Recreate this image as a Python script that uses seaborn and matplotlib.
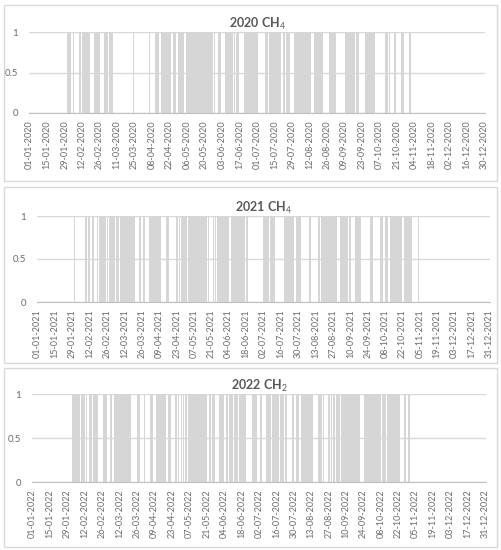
import numpy as np
import pandas as pd
import seaborn as sns
import matplotlib.pyplot as plt
from matplotlib.patches import Rectangle

# active days (0 = 1 January), as (first, last) runs
runs_2020 = [(30, 33), (35, 35), (40, 48), (52, 56), (60, 62), (64, 66), (83, 83),
             (96, 96), (101, 103), (106, 113), (115, 117), (119, 120), (121, 123),
             (126, 128), (129, 135), (136, 146), (148, 148), (151, 153), (157, 160),
             (161, 162), (164, 164), (166, 167), (172, 174), (175, 182), (189, 190),
             (192, 201), (203, 204), (206, 208), (212, 225), (228, 230), (231, 234),
             (240, 245), (253, 257), (258, 260), (262, 263), (269, 272), (273, 276),
             (285, 286), (288, 288), (292, 293), (298, 299), (304, 305)]
runs_2021 = [(30, 30), (39, 39), (41, 42), (44, 45), (48, 48), (50, 56), (58, 62),
             (64, 65), (67, 78), (82, 83), (85, 86), (90, 94), (95, 99), (104, 105),
             (112, 114), (116, 120), (122, 136), (138, 138), (142, 143), (145, 146),
             (147, 148), (149, 154), (156, 169), (182, 186), (188, 191), (199, 206),
             (209, 212), (219, 220), (226, 227), (229, 230), (231, 241), (244, 250),
             (251, 252), (256, 260), (268, 270), (276, 278), (280, 282), (284, 293),
             (296, 301), (307, 307)]
runs_2022 = [(32, 35), (36, 43), (46, 47), (49, 52), (57, 59), (63, 63), (66, 79),
             (84, 86), (90, 90), (95, 96), (100, 107), (109, 111), (115, 117),
             (120, 121), (123, 129), (130, 140), (142, 143), (145, 146), (150, 153),
             (156, 157), (158, 171), (177, 180), (183, 184), (188, 191), (193, 204),
             (209, 210), (212, 214), (216, 219), (220, 225), (230, 232), (234, 234),
             (238, 240), (242, 246), (247, 262), (263, 263), (267, 270), (271, 273),
             (274, 280), (281, 295), (299, 300), (302, 303)]

years = [2020, 2021, 2022]
titles = ["2020 CH$_4$", "2021 CH$_4$", "2022 CH$_2$"]
all_runs = [runs_2020, runs_2021, runs_2022]

sns.set_style("white")
plt.rcParams['font.family'] = ['Lato', 'DejaVu Sans']
plt.rcParams['mathtext.fontset'] = 'custom'
plt.rcParams['mathtext.rm'] = 'Lato'

W, H = 501, 550
fig = plt.figure(figsize=(W / 100, H / 100), dpi=100)

# axes boxes in pixels: x0, x1, y_top, y_bottom ; panel frames: y_top, y_bottom
axes_px = [(29, 485, 32, 113), (37, 490, 216, 302), (32, 486, 394, 482)]
frames_px = [(5, 181), (187, 363), (368, 547)]

for year, title, runs, (x0, x1, yt, yb), (ft, fb) in zip(years, titles, all_runs, axes_px, frames_px):
    fig.patches.append(Rectangle((4 / W, 1 - fb / H), 493 / W, (fb - ft) / H,
                                 transform=fig.transFigure, fill=False,
                                 edgecolor="#d9d9d9", linewidth=1))
    ax = fig.add_axes([x0 / W, 1 - yb / H, (x1 - x0) / W, (yb - yt) / H])

    dates = pd.date_range(f"{year}-01-01", f"{year}-12-31")
    value = np.zeros(len(dates))
    for a, b in runs:
        value[a:b + 1] = 1
    df = pd.DataFrame({"day": np.arange(len(dates)), "value": value})

    sns.barplot(data=df, x="day", y="value", native_scale=True, color="#d6d6d6",
                saturation=1, width=0.95, linewidth=0, errorbar=None, ax=ax)

    ticks = np.arange(0, 365, 14)
    ax.set_xticks(ticks)
    ax.set_xticklabels([dates[t].strftime("%d-%m-%Y") for t in ticks])
    ax.set_xlim(-0.5, 364.5)
    ax.set_ylim(0, 1)
    ax.set_yticks([0, 0.5, 1])
    ax.set_yticklabels(["0", "0.5", "1"])
    ax.set_xlabel("")
    ax.set_ylabel("")
    ax.yaxis.grid(True, color="#d9d9d9", linewidth=1)
    ax.set_axisbelow(True)
    for s in ["top", "left", "right"]:
        ax.spines[s].set_visible(False)
    ax.spines["bottom"].set_color("#bfbfbf")
    ax.tick_params(axis="x", length=3, color="#bfbfbf", direction="out",
                   labelrotation=90, labelsize=6.5, labelcolor="#6b6b6b", pad=2)
    ax.tick_params(axis="y", length=0, labelsize=7, labelcolor="#6b6b6b", pad=8)
    ax.set_title(title, fontsize=9, fontweight="bold", color="#595959", pad=3)

plt.savefig("out.png", dpi=100)
